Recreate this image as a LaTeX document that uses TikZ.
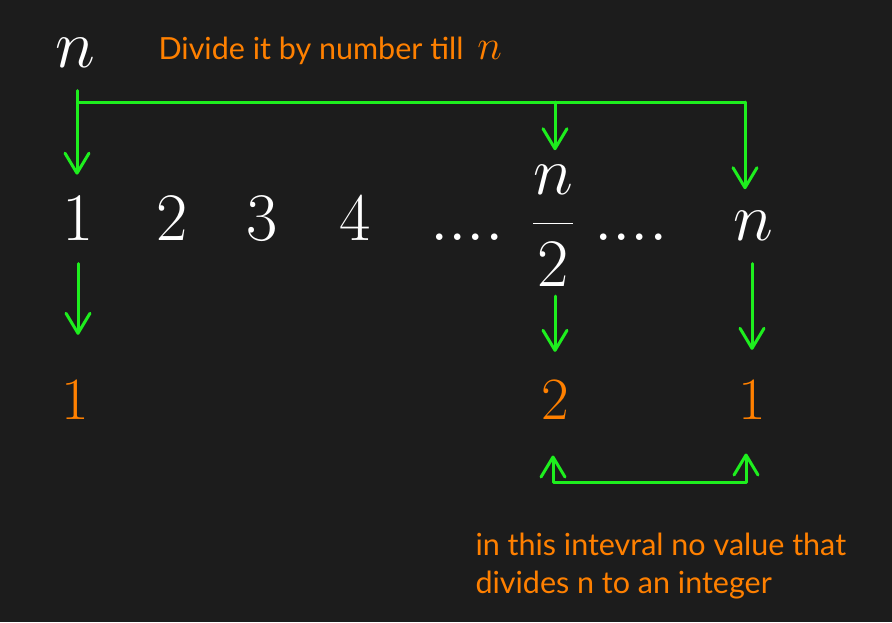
\RequirePackage{fix-cm}
\documentclass[tikz,border=0pt]{standalone}
\usepackage{amsmath}
\usepackage{fontspec}
\setmainfont{Lato}
\usetikzlibrary{arrows.meta}
\definecolor{fondo}{HTML}{1C1C1C}
\definecolor{verde}{HTML}{1EEE1E}
\definecolor{naranja}{HTML}{FF8000}
\begin{document}
\begin{tikzpicture}[x=1pt, y=-1pt, line width=3pt,
  >={Straight Barb[length=20pt,width=24pt,line cap=round,line join=round]},
  num/.style={text=white, inner sep=0pt, anchor=base, font=\fontsize{68}{80}\selectfont},
  res/.style={text=naranja, inner sep=0pt, anchor=base, font=\fontsize{60}{70}\selectfont},
  nota/.style={text=naranja, inner sep=0pt, anchor=base west, align=left, font=\fontsize{30.5}{38}\selectfont},
  flecha/.style={->, draw=verde, line cap=round, line join=round}]
\fill [fondo] (0,0) rectangle (892,622);
\useasboundingbox (0,0) rectangle (892,622);
% Nodos
\node [num] (n0) at (75,67) {$n$};
\node [nota] (tx) at (157,59) {Divide it by number till\hspace{14pt}{\fontsize{42}{44}\selectfont$n$}};
\node [num] (u1) at (78,240) {$1$};
\node [num] (u2) at (172,240) {$2$};
\node [num] (u3) at (262,240) {$3$};
\node [num] (u4) at (355,240) {$4$};
\node [num] (p1) at (467,240) {$....$};
\node [num] (h)  at (553,240) {$\dfrac{n}{2}$};
\node [num] (p2) at (631,240) {$....$};
\node [num] (nn) at (753,240) {$n$};
\node [res] (r1) at (75,419) {$1$};
\node [res] (r2) at (555,419) {$2$};
\node [res] (r3) at (752,419) {$1$};
% la linea base es la de la ultima fila
\node [nota] (tb) at (474,593) {in this intevral no value that\\divides n to an integer};
% Ejes
\coordinate (j0) at (77,102);
\coordinate (j1) at (555,102);
\coordinate (j2) at (745,102);
\coordinate (b1) at (553,482);
\coordinate (b2) at (746,482);
\draw [verde] (j0) -- (j2);
\path (n0.south -| j0) edge [flecha, shorten <=22pt, shorten >=20pt] (u1.north -| j0);
\path (j1) edge [flecha, shorten >=13pt] (h.north -| j1);
\path (j2) edge [flecha, shorten >=20pt] (nn.north -| j2);
% resultados
\path (u1.south) edge [flecha, shorten <=22pt, shorten >=44pt] (r1.north -| u1.south);
\path (h.south -| r2) edge [flecha, shorten <=8pt, shorten >=27pt] (r2.north);
\path (nn.south -| r3) edge [flecha, shorten <=22pt, shorten >=29pt] (r3.north);
% intervalo
\draw [flecha, <->, shorten <=35pt, shorten >=33pt] (b1 |- r2.south) -- (b1) -- (b2) -- (b2 |- r3.south);
\end{tikzpicture}
\end{document}
